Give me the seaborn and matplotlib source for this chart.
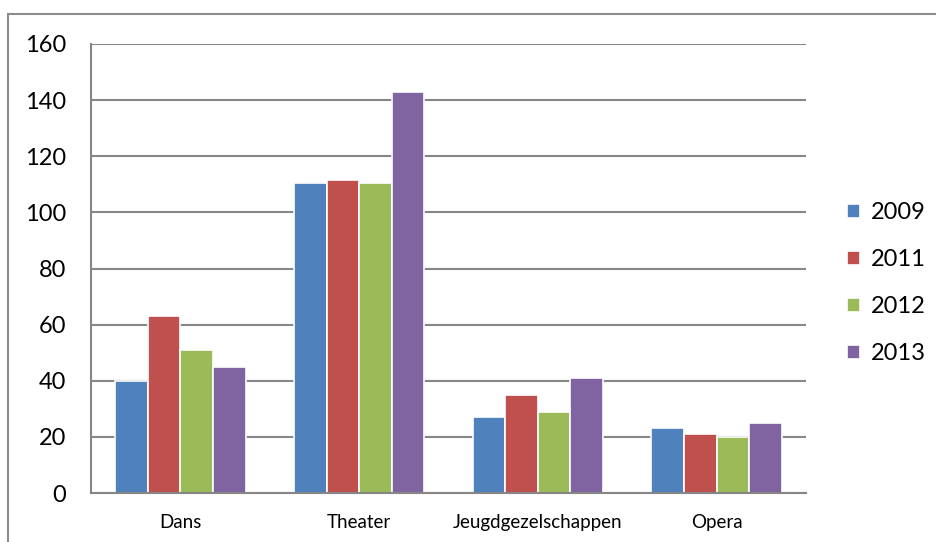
import pandas as pd
import matplotlib
matplotlib.use('Agg')
import matplotlib.pyplot as plt
import seaborn as sns
from matplotlib.patches import Rectangle

# data
categorieen = ['Dans', 'Theater', 'Jeugdgezelschappen', 'Opera']
jaren = ['2009', '2011', '2012', '2013']
w2009 = [40, 110.5, 27, 23]
w2011 = [63, 111.5, 35, 21]
w2012 = [51, 110.5, 29, 20]
w2013 = [45, 143, 41, 25]
kleuren = ['#4F81BD', '#C0504D', '#9BBB59', '#8064A2']

rows = []
for jaar, waarden in zip(jaren, [w2009, w2011, w2012, w2013]):
    for cat, v in zip(categorieen, waarden):
        rows.append({'categorie': cat, 'jaar': jaar, 'waarde': v})
df = pd.DataFrame(rows)

sns.set_theme(style='white')
plt.rcParams['font.family'] = ['Lato', 'DejaVu Sans']
plt.rcParams['text.color'] = 'black'

fig = plt.figure(figsize=(9.36, 5.42), dpi=100)
ax = fig.add_axes([91 / 936, 49 / 542, (806 - 91) / 936, (493 - 44) / 542])

sns.barplot(data=df, x='categorie', y='waarde', hue='jaar', order=categorieen,
            hue_order=jaren, palette=kleuren, width=0.73, saturation=1,
            edgecolor='white', linewidth=1.2, ax=ax)

ax.set_ylim(0, 160)
ax.set_yticks(range(0, 161, 20))
ax.yaxis.grid(True, color='#868686', linewidth=1.5)
ax.set_axisbelow(True)
ax.set_xlabel('')
ax.set_ylabel('')
for s in ['top', 'right']:
    ax.spines[s].set_visible(False)
for s in ['left', 'bottom']:
    ax.spines[s].set_color('#868686')
    ax.spines[s].set_linewidth(1.5)
ax.tick_params(axis='y', labelsize=17, length=0, pad=18, labelcolor='black')
ax.tick_params(axis='x', labelsize=13.5, length=0, pad=15, labelcolor='black')

leg = ax.legend(loc='center left', bbox_to_anchor=(1.028, 0.467), frameon=False,
                fontsize=17, handlelength=0.55, handleheight=0.55,
                handletextpad=0.45, labelspacing=1.1)
for t in leg.get_texts():
    t.set_color('black')

# outer chart border
fig.patches.append(Rectangle((8 / 936, -0.05), 1.2, (542 - 14) / 542 + 0.05,
                             transform=fig.transFigure, fill=False,
                             edgecolor='#8c8c8c', linewidth=1.5))

fig.savefig('out.png', dpi=100)
